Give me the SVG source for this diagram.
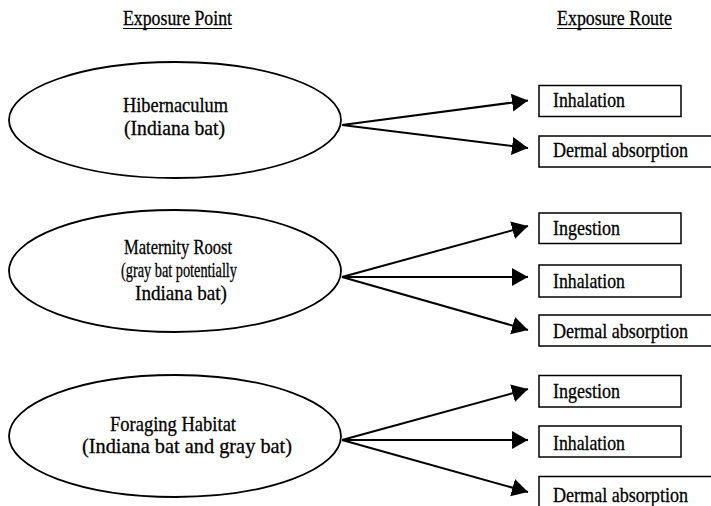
<svg xmlns="http://www.w3.org/2000/svg" width="711" height="506" viewBox="0 0 711 506">
<style>
text{font-family:"Liberation Serif","Times New Roman",serif;font-size:21px;fill:#000;stroke:#000;stroke-width:0.3}
.node{fill:#fff;stroke:#000;stroke-width:1.8}
.box{fill:#fff;stroke:#000;stroke-width:1.5}
.conn line{stroke:#000;stroke-width:2}
.ul{stroke:#000;stroke-width:1.2}
</style>
<defs>
<marker id="ah" markerUnits="userSpaceOnUse" markerWidth="18" markerHeight="20" refX="16" refY="9" orient="auto" viewBox="0 0 18 20">
<path d="M0,0 L16,9 L0,18 z" fill="#000"/>
</marker>
</defs>
<rect width="711" height="506" fill="#fff"/>
<g id="headers">
<text x="123" y="25" textLength="109" lengthAdjust="spacingAndGlyphs">Exposure Point</text>
<line class="ul" x1="123" y1="28.5" x2="232" y2="28.5"/>
<text x="557" y="25" textLength="115" lengthAdjust="spacingAndGlyphs">Exposure Route</text>
<line class="ul" x1="557" y1="28.5" x2="672" y2="28.5"/>
</g>
<g id="n-hibernaculum">
<ellipse class="node" cx="175" cy="120" rx="166" ry="58"/>
<text x="123" y="112" textLength="105" lengthAdjust="spacingAndGlyphs">Hibernaculum</text>
<text x="124" y="135" textLength="101" lengthAdjust="spacingAndGlyphs">(Indiana bat)</text>
</g>
<g id="n-maternity">
<ellipse class="node" cx="175" cy="271" rx="166" ry="61"/>
<text x="124" y="254" textLength="108" lengthAdjust="spacingAndGlyphs">Maternity Roost</text>
<text x="121" y="277" textLength="116" lengthAdjust="spacingAndGlyphs">(gray bat potentially</text>
<text x="135" y="300" textLength="92" lengthAdjust="spacingAndGlyphs">Indiana bat)</text>
</g>
<g id="n-foraging">
<ellipse class="node" cx="175" cy="436" rx="166" ry="61"/>
<text x="110" y="431" textLength="126" lengthAdjust="spacingAndGlyphs">Foraging Habitat</text>
<text x="82" y="453" textLength="210" lengthAdjust="spacingAndGlyphs">(Indiana bat and gray bat)</text>
</g>
<g id="r1-inhalation">
<rect class="box" x="539" y="85.5" width="142" height="31"/>
<text x="553" y="107" textLength="72" lengthAdjust="spacingAndGlyphs">Inhalation</text>
</g>
<g id="r1-dermal">
<rect class="box" x="539" y="136" width="176" height="31"/>
<text x="553" y="157" textLength="135" lengthAdjust="spacingAndGlyphs">Dermal absorption</text>
</g>
<g id="r2-ingestion">
<rect class="box" x="539" y="213" width="142" height="30.5"/>
<text x="553" y="235" textLength="67" lengthAdjust="spacingAndGlyphs">Ingestion</text>
</g>
<g id="r2-inhalation">
<rect class="box" x="539" y="265" width="142" height="32"/>
<text x="553" y="288" textLength="72" lengthAdjust="spacingAndGlyphs">Inhalation</text>
</g>
<g id="r2-dermal">
<rect class="box" x="539" y="315" width="176" height="31"/>
<text x="553" y="338" textLength="135" lengthAdjust="spacingAndGlyphs">Dermal absorption</text>
</g>
<g id="r3-ingestion">
<rect class="box" x="539" y="375.5" width="142" height="31.5"/>
<text x="553" y="398" textLength="67" lengthAdjust="spacingAndGlyphs">Ingestion</text>
</g>
<g id="r3-inhalation">
<rect class="box" x="539" y="426" width="142" height="31"/>
<text x="553" y="450" textLength="72" lengthAdjust="spacingAndGlyphs">Inhalation</text>
</g>
<g id="r3-dermal">
<rect class="box" x="539" y="476.5" width="176" height="40"/>
<text x="553" y="502" textLength="135" lengthAdjust="spacingAndGlyphs">Dermal absorption</text>
</g>
<g id="connectors" class="conn">
<line x1="342" y1="125" x2="528" y2="100.5" marker-end="url(#ah)"/>
<line x1="342" y1="125" x2="528" y2="148" marker-end="url(#ah)"/>
<line x1="342" y1="277" x2="528" y2="226" marker-end="url(#ah)"/>
<line x1="342" y1="277" x2="528" y2="277" marker-end="url(#ah)"/>
<line x1="342" y1="277" x2="528" y2="330" marker-end="url(#ah)"/>
<line x1="342" y1="440" x2="528" y2="389" marker-end="url(#ah)"/>
<line x1="342" y1="440" x2="528" y2="440" marker-end="url(#ah)"/>
<line x1="342" y1="440" x2="528" y2="492" marker-end="url(#ah)"/>
</g>
</svg>
